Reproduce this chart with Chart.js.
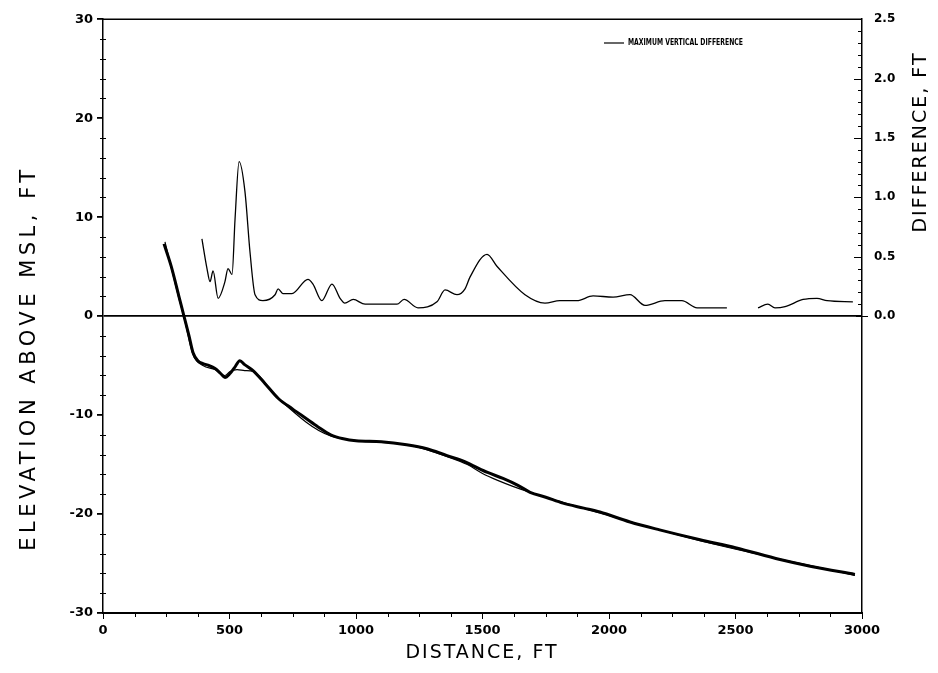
<!DOCTYPE html>
<html>
<head>
<meta charset="utf-8">
<script src="https://cdn.jsdelivr.net/npm/chart.js@4/dist/chart.umd.min.js"></script>
<style>
  html, body { margin: 0; padding: 0; background: #fff; }
  #wrap { width: 938px; height: 673px; }
</style>
</head>
<body>
<div id="wrap"><canvas id="chart" width="938" height="673"></canvas></div>
<script>
// profile surveys (distance ft, elevation ft above MSL)
const profileADist = [241, 270, 300, 320, 340, 356, 375, 395, 420, 443, 465, 482, 502, 520, 541, 560, 593, 640, 692, 750, 800, 850, 900, 950, 1000, 1100, 1200, 1280, 1360, 1420, 1462, 1520, 1581, 1640, 1688, 1750, 1818, 1900, 1964, 2083, 2200, 2360, 2500, 2676, 2800, 2972];
const profileAElev = [7.3, 5.0, 2.0, 0, -2.0, -3.7, -4.5, -4.8, -5.0, -5.3, -5.8, -6.2, -5.8, -5.2, -4.5, -4.9, -5.5, -6.8, -8.3, -9.4, -10.3, -11.2, -12.0, -12.4, -12.6, -12.7, -13.0, -13.4, -14.1, -14.6, -15.1, -15.8, -16.4, -17.1, -17.8, -18.3, -18.9, -19.4, -19.8, -20.8, -21.6, -22.6, -23.4, -24.6, -25.3, -26.1];
const profileBDist = [245, 300, 320, 356, 395, 443, 482, 502, 530, 560, 593, 692, 900, 1200, 1360, 1440, 1500, 1560, 1620, 1688, 1964, 2360, 2972];
const profileBElev = [7.5, 1.8, -0.1, -3.9, -5.0, -5.4, -6.0, -5.6, -5.4, -5.5, -5.6, -8.3, -12.1, -13.0, -14.2, -15.0, -15.9, -16.6, -17.2, -17.8, -19.9, -22.7, -26.2];

// maximum vertical difference (ft, right axis); null = gap in record
const diffDist = [391, 411, 423, 435, 455, 482, 494, 510, 522, 538, 561, 581, 601, 632, 680, 692, 711, 747, 810, 830, 865, 905, 937, 956, 989, 1036, 1162, 1190, 1245, 1320, 1352, 1399, 1431, 1451, 1518, 1557, 1668, 1747, 1806, 1873, 1937, 2016, 2083, 2142, 2221, 2288, 2348, 2466, 2530, 2589, 2628, 2656, 2696, 2767, 2822, 2862, 2964];
const diffVal = [0.65, 0.40, 0.29, 0.38, 0.15, 0.29, 0.40, 0.35, 0.82, 1.30, 1.05, 0.54, 0.18, 0.13, 0.18, 0.23, 0.19, 0.19, 0.31, 0.27, 0.13, 0.27, 0.15, 0.11, 0.14, 0.10, 0.10, 0.14, 0.07, 0.12, 0.22, 0.18, 0.23, 0.33, 0.52, 0.42, 0.18, 0.11, 0.13, 0.13, 0.17, 0.16, 0.18, 0.09, 0.13, 0.13, 0.07, 0.07, null, 0.07, 0.10, 0.07, 0.08, 0.14, 0.15, 0.13, 0.12];

const xTicks = [0, 500, 1000, 1500, 2000, 2500, 3000];
const yTicks = [-30, -20, -10, 0, 10, 20, 30];
const y2Ticks = [0, 0.5, 1.0, 1.5, 2.0, 2.5];

const legendText = "MAXIMUM VERTICAL DIFFERENCE";
const xTitle = "DISTANCE, FT";
const yTitle = "ELEVATION ABOVE MSL, FT";
const y2Title = "DIFFERENCE, FT";

const pts = (xs, ys) => xs.map((x, i) => ({ x, y: ys[i] }));
const tickFont = { family: "DejaVu Sans", weight: "bold", size: 13 };

// minor ticks, top frame, rotated axis titles, legend
const extras = {
  id: "extras",
  afterDraw(chart) {
    const { ctx, chartArea: a, scales } = chart;
    ctx.save();
    ctx.strokeStyle = "#000";
    ctx.lineWidth = 1;
    ctx.beginPath();
    for (let v = -30; v <= 30; v += 2) {
      if (v % 10 === 0) continue;
      const p = Math.round(scales.y.getPixelForValue(v)) + 0.5;
      ctx.moveTo(a.left - 3, p); ctx.lineTo(a.left + 3, p);
    }
    for (let v = 125; v < 3000; v += 125) {
      if (v % 500 === 0) continue;
      const p = Math.round(scales.x.getPixelForValue(v)) + 0.5;
      ctx.moveTo(p, a.bottom); ctx.lineTo(p, a.bottom + 4);
    }
    for (let k = 1; k <= 25; k++) {
      const p = Math.round(scales.y2.getPixelForValue(k / 10)) + 0.5;
      const len = k % 5 === 0 ? 8 : 4;
      ctx.moveTo(a.right - len, p); ctx.lineTo(a.right, p);
    }
    const z = Math.round(scales.y2.getPixelForValue(0)) + 0.5;
    ctx.moveTo(a.right - 6, z); ctx.lineTo(a.right + 6, z);
    ctx.stroke();

    ctx.lineWidth = 1.5;
    ctx.beginPath();
    ctx.moveTo(a.left, a.top); ctx.lineTo(a.right, a.top);
    ctx.stroke();

    ctx.fillStyle = "#000";
    ctx.textAlign = "center";
    ctx.textBaseline = "middle";
    ctx.save();
    ctx.font = "21px 'DejaVu Sans'";
    ctx.letterSpacing = "4.5px";
    ctx.translate(30, 358);
    ctx.rotate(-Math.PI / 2);
    ctx.fillText(yTitle, 0, 0);
    ctx.restore();
    ctx.font = "19px 'DejaVu Sans'";
    ctx.letterSpacing = "2px";
    ctx.save();
    ctx.translate(921, 142);
    ctx.rotate(-Math.PI / 2);
    ctx.fillText(y2Title, 0, 0);
    ctx.restore();
    ctx.fillText(xTitle, 482, 653);

    ctx.letterSpacing = "0px";
    ctx.lineWidth = 1.2;
    ctx.beginPath();
    ctx.moveTo(604, 43); ctx.lineTo(624, 43);
    ctx.stroke();
    ctx.font = "bold 9px 'DejaVu Sans'";
    ctx.textAlign = "left";
    ctx.fillText(legendText, 628, 43, 115);
    ctx.restore();
  },
};

new Chart(document.getElementById("chart"), {
  type: "line",
  data: {
    datasets: [
      { label: "Profile A", data: pts(profileADist, profileAElev), yAxisID: "y", borderColor: "#000", borderWidth: 3, pointRadius: 0, cubicInterpolationMode: "monotone" },
      { label: "Profile B", data: pts(profileBDist, profileBElev), yAxisID: "y", borderColor: "#000", borderWidth: 1.2, pointRadius: 0, cubicInterpolationMode: "monotone" },
      { label: legendText, data: pts(diffDist, diffVal), yAxisID: "y2", borderColor: "#000", borderWidth: 1.3, pointRadius: 0, cubicInterpolationMode: "monotone", spanGaps: false },
    ],
  },
  options: {
    responsive: false,
    animation: false,
    layout: { padding: { top: 16, left: 0, right: 0, bottom: 0 } },
    plugins: { legend: { display: false }, tooltip: { enabled: false } },
    scales: {
      x: {
        type: "linear", min: 0, max: 3000,
        afterBuildTicks: (s) => { s.ticks = xTicks.map((v) => ({ value: v })); },
        afterFit: (s) => { s.height = 60; },
        ticks: { color: "#000", font: tickFont, padding: 4, maxRotation: 0, callback: (v) => String(v) },
        grid: { drawOnChartArea: false, color: "#000", tickLength: 6 },
        border: { color: "#000", width: 2 },
      },
      y: {
        position: "left", min: -30, max: 30,
        afterBuildTicks: (s) => { s.ticks = yTicks.map((v) => ({ value: v })); },
        afterFit: (s) => { s.width = 103; },
        ticks: { color: "#000", font: tickFont, padding: 4, callback: (v) => String(v) },
        grid: { color: (c) => (c.tick && c.tick.value === 0 ? "#000" : "rgba(0,0,0,0)"), lineWidth: 1.8, tickColor: "#000", tickLength: 6 },
        border: { color: "#000", width: 1.5 },
      },
      y2: {
        position: "right", min: -2.5, max: 2.5,
        afterBuildTicks: (s) => { s.ticks = y2Ticks.map((v) => ({ value: v })); },
        afterFit: (s) => { s.width = 76; },
        ticks: { color: "#000", font: { family: "DejaVu Sans", weight: "bold", size: 12 }, padding: 12, callback: (v) => Number(v).toFixed(1) },
        grid: { drawOnChartArea: false, drawTicks: false },
        border: { color: "#000", width: 1.5 },
      },
    },
  },
  plugins: [extras],
});
</script>
</body>
</html>
